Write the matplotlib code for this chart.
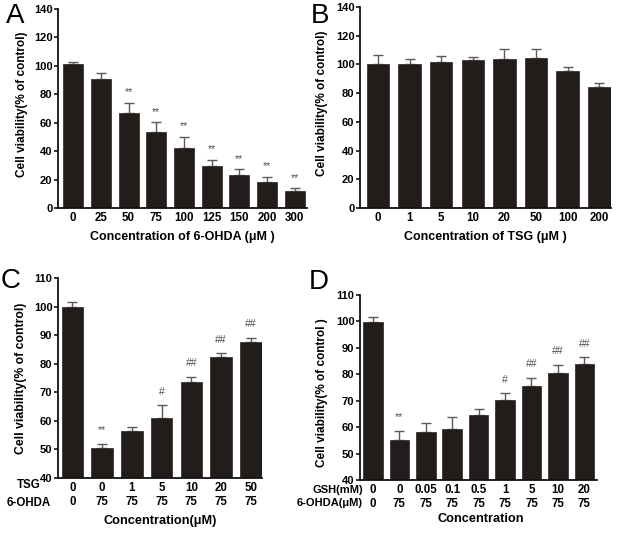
import matplotlib
matplotlib.use("Agg")
import matplotlib.pyplot as plt
import numpy as np

plt.rcParams['font.family'] = ['Liberation Sans', 'DejaVu Sans']

# ---------------- data ----------------
a_labels = ["0", "25", "50", "75", "100", "125", "150", "200", "300"]
a_mean = [101.5, 91.0, 67.0, 53.3, 42.5, 29.4, 23.2, 18.5, 11.8]
a_top = [103.0, 95.2, 74.2, 60.2, 50.0, 34.0, 27.1, 22.0, 13.8]
a_sig = ["", "", "**", "**", "**", "**", "**", "**", "**"]

b_labels = ["0", "1", "5", "10", "20", "50", "100", "200"]
b_mean = [100.4, 100.6, 101.8, 103.0, 103.5, 104.6, 95.6, 84.5]
b_top = [106.9, 103.9, 106.2, 104.9, 110.8, 110.6, 98.3, 87.3]

c_tsg = ["0", "0", "1", "5", "10", "20", "50"]
c_ohda = ["0", "75", "75", "75", "75", "75", "75"]
c_mean = [100.0, 50.4, 56.4, 61.0, 73.6, 82.5, 87.5]
c_top = [101.7, 52.0, 57.7, 65.5, 75.5, 83.6, 89.1]
c_sig = ["", "**", "", "#", "##", "##", "##"]

d_gsh = ["0", "0", "0.05", "0.1", "0.5", "1", "5", "10", "20"]
d_ohda = ["0", "75", "75", "75", "75", "75", "75", "75", "75"]
d_mean = [99.7, 55.2, 58.3, 59.2, 64.5, 70.3, 75.7, 80.5, 84.0]
d_top = [101.8, 58.6, 61.5, 63.7, 66.8, 72.8, 78.7, 83.6, 86.5]
d_sig = ["", "**", "", "", "", "#", "##", "##", "##"]

W, H = 619, 533
fig = plt.figure(figsize=(W / 100, H / 100), dpi=100)

BAR = "#221d1a"
ERR = "#5a5a5a"
SIG = "#505050"
TICK_FS = 8.3
YTICK_FS = 8.0


def add_ax(l, r, t, b):
    return fig.add_axes([l / W, 1 - b / H, (r - l) / W, (b - t) / H])


def style(ax, ylim, yticks):
    for s in ["top", "right"]:
        ax.spines[s].set_visible(False)
    for s in ["left", "bottom"]:
        ax.spines[s].set_linewidth(1.3)
        ax.spines[s].set_color("#111111")
    ax.set_ylim(*ylim)
    ax.set_yticks(yticks)
    ax.tick_params(axis="y", direction="out", length=3, width=1.1, pad=1,
                   labelsize=YTICK_FS)
    ax.tick_params(axis="x", length=0, pad=3, labelsize=TICK_FS)
    for lab in ax.get_yticklabels() + ax.get_xticklabels():
        lab.set_fontweight("bold")


def bars(ax, mean, top, width, capsize):
    x = np.arange(len(mean))
    m = np.array(mean)
    t = np.array(top)
    ax.errorbar(x, m, yerr=[np.zeros_like(m), t - m], fmt="none",
                ecolor=ERR, elinewidth=1.0, capsize=capsize, capthick=1.0,
                zorder=1)
    ax.bar(x, m, width=width, color=BAR, edgecolor="#3a3532", linewidth=0.6,
           zorder=2)
    return x


def sigs(ax, x, top, sig, off=4):
    for xi, t, s in zip(x, top, sig):
        if s:
            ax.annotate(s, (xi, t), xytext=(0, off), textcoords="offset points",
                        ha="center", va="bottom", fontsize=7.5, color=SIG)


# ---------------- Panel A ----------------
axA = add_ax(58, 307, 9, 208)
xA = bars(axA, a_mean, a_top, 0.72, 3.3)
sigs(axA, xA, a_top, a_sig)
axA.set_xlim(-0.55, 8.45)
axA.set_xticks(xA)
axA.set_xticklabels(a_labels)
style(axA, (0, 140), np.arange(0, 141, 20))
axA.set_xlabel("Concentration of 6-OHDA (μM )", fontsize=9, fontweight="bold",
               labelpad=5)
axA.set_ylabel("Cell viability(% of control)", fontsize=8.5, fontweight="bold")
axA.yaxis.set_label_coords((28 - 58) / (307 - 58), 0.52)

# ---------------- Panel B ----------------
axB = add_ax(360, 611, 7, 208)
xB = bars(axB, b_mean, b_top, 0.71, 3.6)
axB.set_xlim(-0.57, 7.37)
axB.set_xticks(xB)
axB.set_xticklabels(b_labels)
style(axB, (0, 140), np.arange(0, 141, 20))
axB.set_xlabel("Concentration of TSG (μM )", fontsize=9, fontweight="bold",
               labelpad=5)
axB.set_ylabel("Cell viability(% of control)", fontsize=8.5, fontweight="bold")
axB.yaxis.set_label_coords((328 - 360) / (611 - 360), 0.52)

# ---------------- Panel C ----------------
axC = add_ax(58, 262, 278, 478)
xC = bars(axC, c_mean, c_top, 0.72, 3.8)
sigs(axC, xC, c_top, c_sig, off=6)
axC.set_xlim(-0.48, 6.37)
axC.set_xticks(xC)
axC.set_xticklabels(c_tsg)
style(axC, (40, 110), np.arange(40, 111, 10))
axC.set_ylabel("Cell viability(% of control)", fontsize=8.8, fontweight="bold")
axC.yaxis.set_label_coords((27 - 58) / (262 - 58), 0.5)
for xi, s in zip(xC, c_ohda):
    axC.annotate(s, (xi, 0), xycoords=("data", "axes fraction"),
                 xytext=(0, -17.5), textcoords="offset points", ha="center",
                 va="center", fontsize=TICK_FS, fontweight="bold")
axC.annotate("TSG", (29 / W, 1 - 485 / H), xycoords="figure fraction",
             ha="center", va="center", fontsize=8.3, fontweight="bold")
axC.annotate("6-OHDA", (29 / W, 1 - 503 / H), xycoords="figure fraction",
             ha="center", va="center", fontsize=8.3, fontweight="bold")
fig.text(160 / W, 1 - 521 / H, "Concentration(μM)", ha="center", va="center",
         fontsize=9.2, fontweight="bold")

# ---------------- Panel D ----------------
axD = add_ax(360, 597, 295, 480)
xD = bars(axD, d_mean, d_top, 0.74, 3.4)
sigs(axD, xD, d_top, d_sig, off=6)
axD.set_xlim(-0.49, 8.48)
axD.set_xticks(xD)
axD.set_xticklabels(d_gsh)
style(axD, (40, 110), np.arange(40, 111, 10))
axD.set_ylabel("Cell viability(% of control )", fontsize=8.5,
               fontweight="bold")
axD.yaxis.set_label_coords((328 - 360) / (597 - 360), 0.47)
for xi, s in zip(xD, d_ohda):
    axD.annotate(s, (xi, 0), xycoords=("data", "axes fraction"),
                 xytext=(0, -17), textcoords="offset points", ha="center",
                 va="center", fontsize=TICK_FS, fontweight="bold")
fig.text(363 / W, 1 - 490 / H, "GSH(mM)", ha="right", va="center",
         fontsize=8, fontweight="bold")
fig.text(363 / W, 1 - 503 / H, "6-OHDA(μM)", ha="right", va="center",
         fontsize=8, fontweight="bold")
fig.text(481 / W, 1 - 519 / H, "Concentration", ha="center", va="center",
         fontsize=9.2, fontweight="bold")

# panel letters
for lab, x, y in [("A", 15, 16), ("B", 320, 16), ("C", 11, 281), ("D", 319, 282)]:
    fig.text(x / W, 1 - y / H, lab, ha="center", va="center", fontsize=20)

fig.savefig("out.png", dpi=100)
